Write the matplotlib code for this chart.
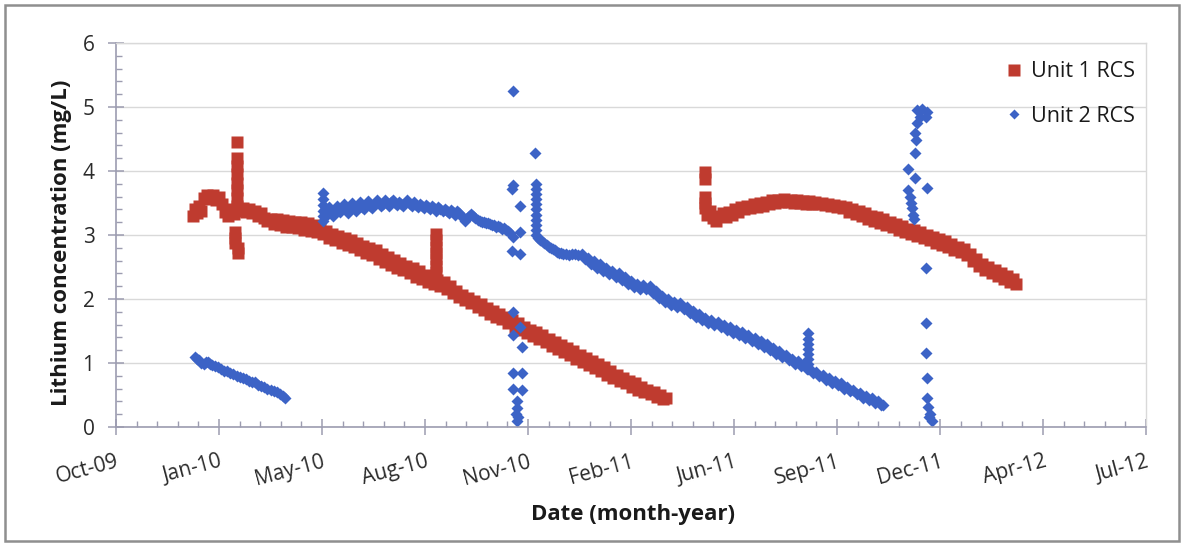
import pandas as pd
import matplotlib.pyplot as plt
from matplotlib.ticker import MultipleLocator, FuncFormatter
from matplotlib.patches import Rectangle

# sample dates are Excel day serials (days since 1899-12-30), values in mg/L
unit1_day = [
    40175, 40177, 40179, 40181, 40183, 40185, 40188, 40191, 40194, 40197,
    40200, 40203, 40206, 40209, 40212, 40215, 40217, 40217, 40217, 40217,
    40217, 40217, 40217, 40217, 40216, 40216, 40216, 40218, 40218, 40220,
    40223, 40226, 40229, 40232, 40235, 40238, 40241, 40244, 40247, 40250,
    40253, 40256, 40259, 40262, 40265, 40268, 40271, 40274, 40277, 40280,
    40283, 40286, 40289, 40292, 40295, 40298, 40301, 40304, 40307, 40310,
    40313, 40316, 40319, 40322, 40325, 40328, 40331, 40334, 40337, 40340,
    40343, 40346, 40349, 40352, 40355, 40358, 40361, 40364, 40367, 40370,
    40373, 40376, 40379, 40382, 40385, 40388, 40391, 40394, 40397, 40400,
    40403, 40406, 40409, 40411, 40411, 40411, 40411, 40411, 40411, 40411,
    40412, 40415, 40418, 40421, 40424, 40427, 40430, 40433, 40436, 40439,
    40442, 40445, 40448, 40451, 40454, 40457, 40460, 40463, 40466, 40469,
    40472, 40475, 40478, 40481, 40484, 40487, 40490, 40493, 40496, 40499,
    40502, 40505, 40508, 40511, 40514, 40517, 40520, 40523, 40526, 40529,
    40532, 40535, 40538, 40541, 40544, 40547, 40550, 40553, 40556, 40559,
    40562, 40565, 40568, 40571, 40574, 40577, 40580, 40583, 40586, 40589,
    40592, 40595, 40598, 40601, 40604, 40607, 40610, 40613, 40616, 40619,
    40622, 40625, 40628, 40631, 40634,
    # second cycle
    40672, 40672, 40672, 40672, 40672, 40674, 40677, 40680, 40683, 40686,
    40689, 40692, 40695, 40698, 40701, 40704, 40707, 40710, 40713, 40716,
    40719, 40722, 40725, 40728, 40731, 40734, 40737, 40740, 40743, 40746,
    40749, 40752, 40755, 40758, 40761, 40764, 40767, 40770, 40773, 40776,
    40779, 40782, 40785, 40788, 40791, 40794, 40797, 40800, 40803, 40806,
    40809, 40812, 40815, 40818, 40821, 40824, 40827, 40830, 40833, 40836,
    40839, 40842, 40845, 40848, 40851, 40854, 40857, 40860, 40863, 40866,
    40869, 40872, 40875, 40878, 40881, 40884, 40887, 40890, 40893, 40896,
    40899, 40902, 40905, 40908, 40911, 40914, 40917, 40920, 40923, 40926,
    40929, 40932, 40935, 40938, 40941, 40944, 40947, 40950, 40953, 40956,
    40959, 40962, 40965, 40968, 40971, 40974,
]
unit1_val = [
    3.30, 3.40, 3.34, 3.45, 3.38, 3.58, 3.62, 3.56, 3.62, 3.55,
    3.60, 3.48, 3.36, 3.30, 3.40, 3.33, 4.45, 4.20, 4.08, 3.95,
    3.82, 3.70, 3.58, 3.46, 3.05, 2.95, 2.88, 2.80, 2.72, 3.38,
    3.42, 3.36, 3.40, 3.34, 3.38, 3.30, 3.34, 3.26, 3.22, 3.25,
    3.17, 3.25, 3.15, 3.24, 3.13, 3.22, 3.12, 3.21, 3.11, 3.20,
    3.08, 3.18, 3.07, 3.16, 3.05, 3.14, 3.02, 3.06, 2.96, 3.02,
    2.92, 2.99, 2.88, 2.96, 2.84, 2.92, 2.81, 2.88, 2.76, 2.83,
    2.72, 2.80, 2.68, 2.76, 2.62, 2.71, 2.58, 2.66, 2.53, 2.61,
    2.48, 2.56, 2.45, 2.52, 2.40, 2.48, 2.35, 2.43, 2.31, 2.38,
    2.26, 2.34, 2.24, 3.02, 2.92, 2.82, 2.72, 2.62, 2.52, 2.42,
    2.29, 2.20, 2.27, 2.16, 2.20, 2.10, 2.13, 2.03, 2.07, 1.98,
    2.02, 1.93, 1.97, 1.88, 1.92, 1.83, 1.86, 1.77, 1.81, 1.72,
    1.77, 1.68, 1.72, 1.63, 1.67, 1.57, 1.62, 1.52, 1.57, 1.47,
    1.52, 1.42, 1.48, 1.38, 1.43, 1.33, 1.38, 1.27, 1.33, 1.22,
    1.28, 1.17, 1.24, 1.12, 1.18, 1.07, 1.13, 1.02, 1.08, 0.97,
    1.03, 0.92, 0.98, 0.87, 0.93, 0.82, 0.87, 0.77, 0.82, 0.72,
    0.77, 0.68, 0.72, 0.63, 0.68, 0.58, 0.63, 0.54, 0.58, 0.51,
    0.55, 0.47, 0.50, 0.43, 0.45,
    # second cycle
    3.98, 3.88, 3.60, 3.50, 3.42, 3.32, 3.38, 3.26, 3.22, 3.30,
    3.34, 3.28, 3.36, 3.32, 3.40, 3.36, 3.44, 3.40, 3.46, 3.42,
    3.48, 3.44, 3.50, 3.46, 3.52, 3.48, 3.54, 3.50, 3.55, 3.51,
    3.56, 3.52, 3.55, 3.50, 3.54, 3.50, 3.53, 3.49, 3.53, 3.49,
    3.52, 3.48, 3.50, 3.47, 3.49, 3.45, 3.47, 3.44, 3.45, 3.42,
    3.44, 3.36, 3.41, 3.33, 3.38, 3.29, 3.34, 3.25, 3.30, 3.22,
    3.28, 3.19, 3.25, 3.16, 3.21, 3.12, 3.17, 3.08, 3.14, 3.05,
    3.10, 3.02, 3.08, 2.99, 3.05, 2.96, 3.00, 2.92, 2.97, 2.88,
    2.94, 2.85, 2.90, 2.81, 2.86, 2.77, 2.82, 2.73, 2.78, 2.69,
    2.70, 2.60, 2.62, 2.52, 2.55, 2.45, 2.50, 2.41, 2.45, 2.36,
    2.40, 2.32, 2.36, 2.27, 2.31, 2.23,
]

unit2_day = [
    40177, 40179, 40181, 40183, 40185, 40187, 40189, 40191, 40193, 40196,
    40199, 40202, 40205, 40208, 40211, 40214, 40217, 40220, 40223, 40226,
    40229, 40232, 40235, 40238, 40241, 40244, 40247, 40250, 40253, 40256,
    40259, 40262, 40264,
    # after restart
    40301, 40301, 40301, 40301, 40301, 40301, 40303, 40305, 40307, 40309,
    40311, 40313, 40315, 40317, 40319, 40321, 40323, 40325, 40327, 40329,
    40331, 40333, 40335, 40337, 40339, 40341, 40343, 40345, 40347, 40349,
    40351, 40353, 40355, 40357, 40359, 40361, 40363, 40365, 40367, 40369,
    40371, 40373, 40375, 40377, 40379, 40381, 40383, 40385, 40387, 40389,
    40391, 40393, 40395, 40397, 40399, 40401, 40403, 40405, 40407, 40409,
    40411, 40413, 40415, 40417, 40419, 40421, 40423, 40425, 40427, 40429,
    40431, 40433, 40435, 40437, 40439, 40441, 40443, 40445, 40447, 40449,
    40451, 40453, 40455, 40457, 40459, 40461, 40463, 40465, 40467, 40469,
    40471, 40473, 40475, 40477, 40479, 40481, 40483,
    40485, 40485, 40484, 40492, 40492, 40485, 40484, 40492, 40485, 40492,
    40485, 40494, 40485, 40494, 40485, 40494, 40489, 40489, 40488, 40490, 40489,
    # next cycle
    40507, 40508, 40508, 40508, 40508, 40508, 40508, 40508, 40508, 40508,
    40508, 40508, 40510, 40512, 40514, 40516, 40518, 40520, 40522, 40524,
    40526, 40528, 40530, 40532, 40534, 40537, 40540, 40543, 40546, 40549,
    40552, 40555, 40558, 40561, 40564, 40567, 40570, 40573, 40576, 40579,
    40582, 40585, 40588, 40591, 40594, 40597, 40600, 40603, 40606, 40609,
    40612, 40615, 40618, 40621, 40624, 40627, 40630, 40633, 40636, 40639,
    40642, 40645, 40648, 40651, 40654, 40657, 40660, 40663, 40666, 40669,
    40672, 40675, 40678, 40681, 40684, 40687, 40690, 40693, 40696, 40699,
    40702, 40705, 40708, 40711, 40714, 40717, 40720, 40723, 40726, 40729,
    40732, 40735, 40738, 40741, 40744, 40747, 40750, 40753, 40756, 40759,
    40762, 40765, 40768, 40771, 40772, 40772, 40772, 40772, 40772, 40772,
    40772, 40772, 40774, 40777, 40780, 40783, 40786, 40789, 40792, 40795,
    40798, 40801, 40804, 40807, 40810, 40813, 40816, 40819, 40822, 40825,
    40828, 40831, 40834, 40837, 40840, 40843, 40845,
    # December 2011 outage
    40878, 40883, 40887, 40881, 40886, 40878, 40876, 40877, 40876, 40869,
    40876, 40887, 40869, 40871, 40872, 40873, 40874, 40875, 40886, 40886,
    40886, 40887, 40887, 40888, 40890, 40892, 40889,
]
unit2_val = [
    1.09, 1.06, 1.04, 1.00, 0.98, 1.02, 1.01, 0.99, 0.97, 0.96,
    0.93, 0.90, 0.88, 0.87, 0.85, 0.83, 0.80, 0.78, 0.77, 0.75,
    0.72, 0.70, 0.70, 0.66, 0.64, 0.62, 0.60, 0.58, 0.56, 0.54,
    0.52, 0.49, 0.46,
    # after restart
    3.65, 3.56, 3.47, 3.38, 3.29, 3.22, 3.40, 3.32, 3.44, 3.38,
    3.30, 3.40, 3.46, 3.36, 3.42, 3.48, 3.40, 3.34, 3.44, 3.50,
    3.42, 3.38, 3.46, 3.52, 3.44, 3.40, 3.47, 3.53, 3.46, 3.42,
    3.48, 3.54, 3.50, 3.45, 3.49, 3.55, 3.50, 3.46, 3.51, 3.55,
    3.50, 3.47, 3.52, 3.49, 3.45, 3.50, 3.54, 3.48, 3.46, 3.51,
    3.47, 3.44, 3.49, 3.46, 3.42, 3.47, 3.44, 3.40, 3.45, 3.42,
    3.38, 3.43, 3.40, 3.37, 3.41, 3.38, 3.35, 3.39, 3.36, 3.32,
    3.37, 3.34, 3.30, 3.28, 3.22, 3.26, 3.30, 3.33, 3.30, 3.27,
    3.24, 3.22, 3.20, 3.21, 3.18, 3.19, 3.17, 3.15, 3.16, 3.13,
    3.14, 3.12, 3.10, 3.11, 3.08, 3.06, 3.03,
    5.25, 3.78, 3.72, 3.45, 3.05, 2.97, 2.75, 2.70, 1.80, 1.56,
    1.44, 1.25, 0.84, 0.84, 0.60, 0.58, 0.40, 0.30, 0.20, 0.15, 0.10,
    # next cycle
    4.28, 3.80, 3.72, 3.64, 3.56, 3.48, 3.40, 3.32, 3.24, 3.16,
    3.08, 3.00, 2.95, 2.92, 2.90, 2.87, 2.85, 2.82, 2.80, 2.78,
    2.76, 2.74, 2.72, 2.72, 2.70, 2.71, 2.69, 2.71, 2.70, 2.68,
    2.70, 2.62, 2.64, 2.55, 2.59, 2.49, 2.54, 2.44, 2.49, 2.39,
    2.44, 2.34, 2.40, 2.30, 2.34, 2.24, 2.28, 2.19, 2.24, 2.16,
    2.22, 2.15, 2.21, 2.10, 2.12, 2.01, 2.05, 1.95, 2.00, 1.91,
    1.96, 1.87, 1.93, 1.84, 1.87, 1.78, 1.81, 1.72, 1.76, 1.67,
    1.71, 1.63, 1.67, 1.59, 1.64, 1.56, 1.60, 1.52, 1.56, 1.47,
    1.52, 1.43, 1.48, 1.39, 1.44, 1.35, 1.39, 1.30, 1.34, 1.25,
    1.29, 1.20, 1.24, 1.14, 1.18, 1.09, 1.13, 1.04, 1.07, 0.99,
    1.03, 0.95, 0.99, 0.91, 1.47, 1.38, 1.30, 1.22, 1.14, 1.06,
    0.98, 0.90, 0.91, 0.84, 0.86, 0.79, 0.81, 0.74, 0.76, 0.69,
    0.72, 0.65, 0.68, 0.60, 0.63, 0.56, 0.58, 0.51, 0.53, 0.46,
    0.49, 0.42, 0.45, 0.38, 0.40, 0.35, 0.34,
    # December 2011 outage
    4.95, 4.97, 4.92, 4.85, 4.85, 4.75, 4.60, 4.48, 4.28, 4.03,
    3.89, 3.73, 3.70, 3.60, 3.50, 3.42, 3.32, 3.25, 2.48, 1.63,
    1.16, 0.77, 0.45, 0.32, 0.20, 0.10, 0.15,
]

assert len(unit1_day) == len(unit1_val)
assert len(unit2_day) == len(unit2_val)

RED = "#BF3B2F"
BLUE = "#3C63C6"
AXIS = "#9C9CB0"
GRID = "#D9D9D9"


def month_label(serial, pos=None):
    # Excel serial -> "Jan-10"
    return (pd.Timestamp("1899-12-30") + pd.Timedelta(days=serial)).strftime("%b-%y")


plt.rcParams["font.family"] = ["Open Sans", "DejaVu Sans"]

fig = plt.figure(figsize=(11.84, 5.47), dpi=100)
ax = fig.add_axes([116 / 1184, 1 - 427 / 547, 1030 / 1184, 384 / 547])

ax.plot(unit1_day, unit1_val, ls="none", marker="s", ms=9.0, mec="none",
        color=RED, label="Unit 1 RCS")
ax.plot(unit2_day, unit2_val, ls="none", marker="D", ms=6.6, mec="none",
        color=BLUE, label="Unit 2 RCS")

ax.set_xlim(40100, 41100)
ax.set_ylim(0, 6)
ax.xaxis.set_major_locator(MultipleLocator(100))
ax.xaxis.set_minor_locator(MultipleLocator(20))
ax.xaxis.set_major_formatter(FuncFormatter(month_label))
ax.yaxis.set_major_locator(MultipleLocator(1))
ax.yaxis.set_minor_locator(MultipleLocator(0.2))

ax.grid(axis="y", color=GRID, lw=1)
ax.set_axisbelow(True)
for side in ["left", "bottom"]:
    ax.spines[side].set_color(AXIS)
    ax.spines[side].set_linewidth(1.2)
for side in ["top", "right"]:
    ax.spines[side].set_color(GRID)
    ax.spines[side].set_linewidth(1)

ax.tick_params(which="major", direction="inout", length=11, width=1.1,
               color=AXIS, labelsize=15, labelcolor="#2b2b2b")
ax.tick_params(which="minor", direction="in", length=4, width=1, color=AXIS)
ax.tick_params(axis="y", which="major", pad=10)
ax.tick_params(axis="x", which="major", pad=12)
plt.setp(ax.get_xticklabels(), rotation=15, ha="right", rotation_mode="anchor")

ax.set_xlabel("Date (month-year)", fontsize=16, fontweight="bold", color="#1a1a1a")
ax.set_ylabel("Lithium concentration (mg/L)", fontsize=16, fontweight="bold",
              color="#1a1a1a")
ax.xaxis.set_label_coords(0.502, -0.2)
ax.yaxis.set_label_coords(-0.043, 0.48)

leg = ax.legend(loc="upper right", bbox_to_anchor=(0.998, 0.975), borderaxespad=0,
                frameon=False, fontsize=15.5, labelspacing=1.1, handlelength=0.6,
                handletextpad=0.5, labelcolor="#1a1a1a")
leg.legend_handles[0].set_markersize(8)
leg.legend_handles[1].set_markersize(4.6)

fig.patches.append(Rectangle((5 / 1184, 6 / 547), 1174 / 1184, 536 / 547,
                             transform=fig.transFigure, fill=False,
                             ec="#8f8f8f", lw=1.8))

fig.savefig("out.png", dpi=100)
